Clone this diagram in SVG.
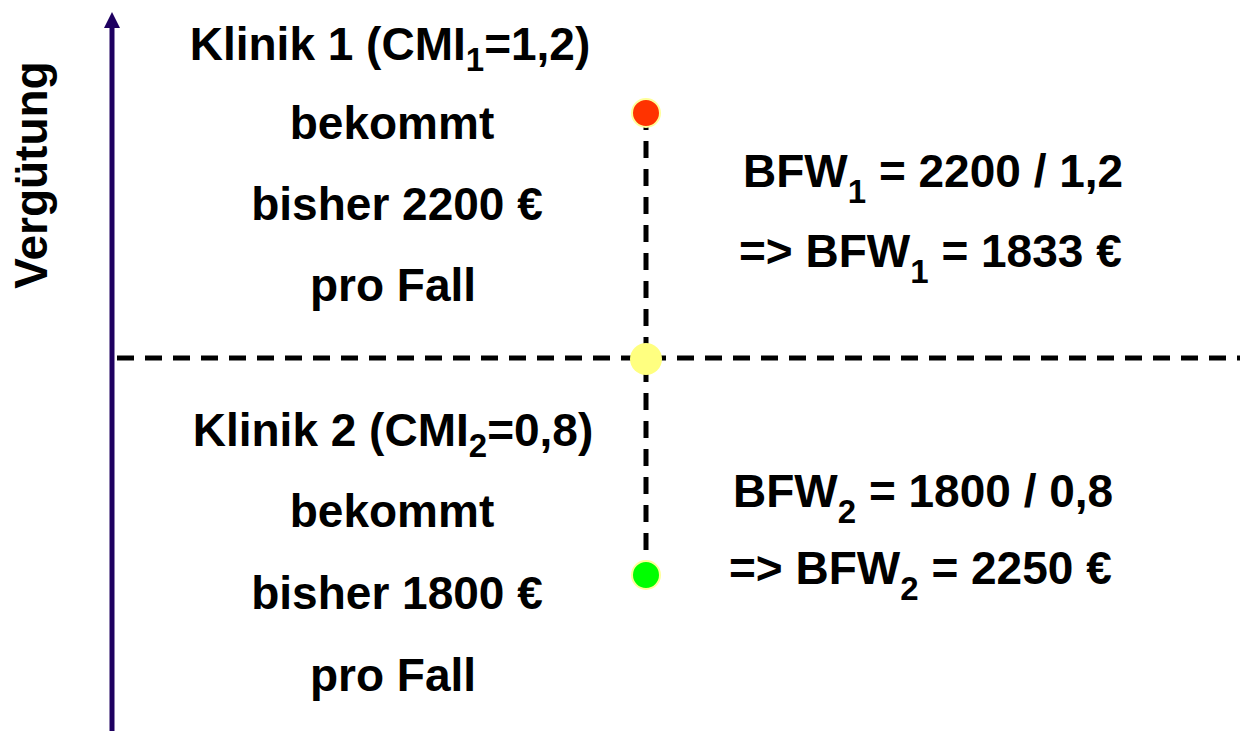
<svg xmlns="http://www.w3.org/2000/svg" width="1240" height="731" viewBox="0 0 1240 731">
  <style>
    .t { font-family: "Liberation Sans", Arial, sans-serif; font-weight: bold; font-size: 46px; fill: #000; }
    .sub { font-size: 33px; }
    .dash { stroke: #000; stroke-width: 5; stroke-dasharray: 17 11; fill: none; }
    .axis { stroke: #1e0060; stroke-width: 5; fill: none; }
    .dot { stroke: #ffff99; stroke-width: 2; }
  </style>
  <defs>
    <marker id="arrow" markerWidth="16" markerHeight="16" refX="0" refY="8" orient="auto" markerUnits="userSpaceOnUse" viewBox="0 0 16 16">
      <path d="M0,0 L16,8 L0,16 Z" fill="#1e0060"/>
    </marker>
  </defs>

  <rect width="1240" height="731" fill="#fff"/>

  <!-- axis and guide lines -->
  <g id="connectors">
    <line class="axis" x1="112" y1="731" x2="112" y2="28" marker-end="url(#arrow)"/>
    <line class="dash" x1="117" y1="358" x2="1240" y2="358"/>
    <line class="dash" x1="646" y1="113" x2="646" y2="575"/>
  </g>

  <!-- axis label -->
  <g id="axis-label">
    <text class="t" transform="translate(47,175) rotate(-90)" text-anchor="middle">Vergütung</text>
  </g>

  <!-- markers -->
  <g id="dot-klinik1">
    <circle class="dot" cx="646" cy="113" r="14" fill="#ff3300"/>
  </g>
  <g id="dot-center">
    <circle cx="646" cy="359" r="16" fill="#ffff80"/>
  </g>
  <g id="dot-klinik2">
    <circle class="dot" cx="646" cy="575" r="14" fill="#00ff00"/>
  </g>

  <!-- Klinik 1 description -->
  <g id="klinik1">
    <text class="t" x="390" y="60" text-anchor="middle">Klinik 1 (CMI<tspan class="sub" dy="11">1</tspan><tspan dy="-11">=1,2)</tspan></text>
    <text class="t" x="392" y="139" text-anchor="middle">bekommt</text>
    <text class="t" x="397" y="220" text-anchor="middle">bisher 2200 €</text>
    <text class="t" x="393" y="301" text-anchor="middle">pro Fall</text>
  </g>

  <!-- Klinik 2 description -->
  <g id="klinik2">
    <text class="t" x="393" y="446" text-anchor="middle">Klinik 2 (CMI<tspan class="sub" dy="11">2</tspan><tspan dy="-11">=0,8)</tspan></text>
    <text class="t" x="392" y="527" text-anchor="middle">bekommt</text>
    <text class="t" x="397" y="609" text-anchor="middle">bisher 1800 €</text>
    <text class="t" x="393" y="691" text-anchor="middle">pro Fall</text>
  </g>

  <!-- base rate 1 -->
  <g id="bfw1">
    <text class="t" x="743" y="187">BFW<tspan class="sub" dy="16">1</tspan><tspan dy="-16"> = 2200 / 1,2</tspan></text>
    <text class="t" x="739" y="267">=&gt; BFW<tspan class="sub" dy="16">1</tspan><tspan dy="-16"> = 1833 €</tspan></text>
  </g>

  <!-- base rate 2 -->
  <g id="bfw2">
    <text class="t" x="733" y="507">BFW<tspan class="sub" dy="16">2</tspan><tspan dy="-16"> = 1800 / 0,8</tspan></text>
    <text class="t" x="729" y="584">=&gt; BFW<tspan class="sub" dy="16">2</tspan><tspan dy="-16"> = 2250 €</tspan></text>
  </g>
</svg>
